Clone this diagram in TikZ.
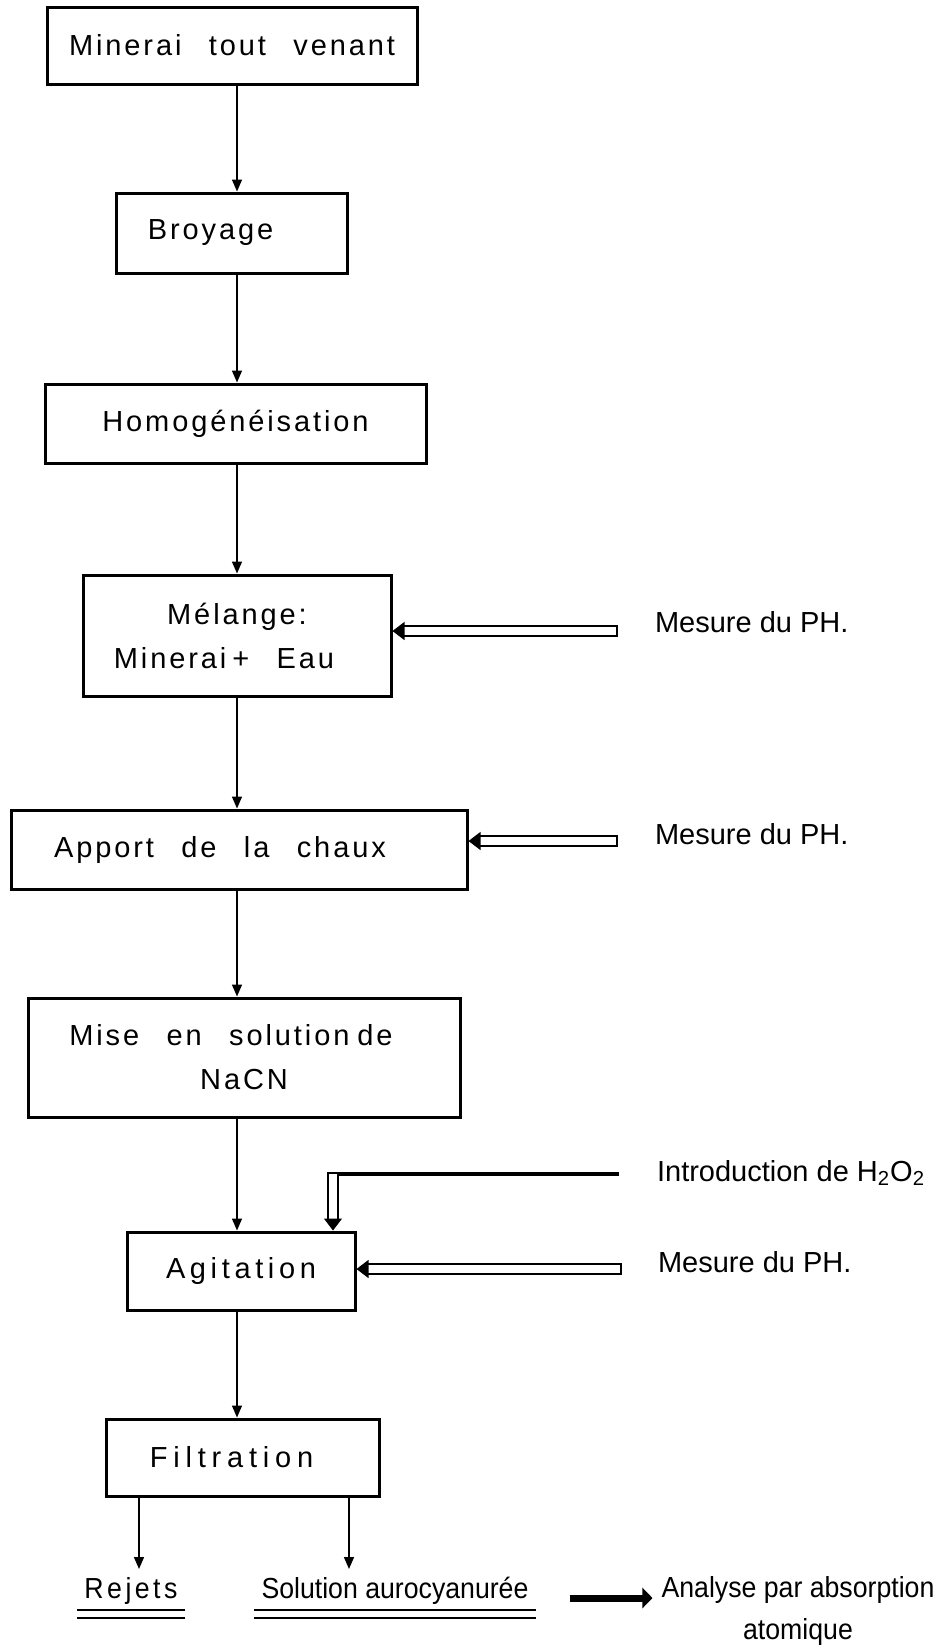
\documentclass[tikz,border=0pt]{standalone}
\usepackage{fontspec}
\setmainfont{Liberation Sans}
\newfontfamily\boxfont{Liberation Sans}[LetterSpace=10,WordSpace=2.5]
\newfontfamily\narrowfont{Liberation Sans}[FakeStretch=0.92]
\usetikzlibrary{arrows.meta, positioning}

\begin{document}
\begin{tikzpicture}[x=0.5pt, y=-0.5pt, >={Triangle[length=6pt,width=5pt]}]

  % Define styles for the boxes and the lines
  \tikzstyle{procbox} = [draw, line width=1.5pt, inner sep=0pt, align=center, font=\boxfont\fontsize{14.5}{22}\selectfont]
  \tikzstyle{flow} = [->, line width=0.7pt]
  \tikzstyle{tube} = [double, double distance=4.4pt, line width=0.6pt, -{Triangle[length=6pt,width=9pt]}]
  \tikzstyle{tubecap} = [line width=0.6pt]
  \tikzstyle{feedline} = [line width=1.6pt]
  \tikzstyle{note} = [anchor=west, font=\fontsize{14.5}{18}\selectfont]
  \tikzstyle{outlabel} = [font=\narrowfont\fontsize{14.5}{21}\selectfont, text height=11pt, text depth=3pt]
  \tikzstyle{underline2} = [double, double distance=3.4pt, line width=0.6pt]
  \tikzstyle{bigarrow} = [line width=3.5pt, -{Triangle[length=5pt,width=10pt]}]

  \useasboundingbox (0,0) rectangle (942,1645);

  \node (minerai) [procbox, minimum width=185pt, minimum height=38.5pt] at (232,45.5) {Minerai tout venant};
  \node (broyage) [procbox, minimum width=115.5pt, minimum height=40pt] at (231.5,233) {\hspace*{-21pt}Broyage};
  \node (homog) [procbox, minimum width=190.5pt, minimum height=39.5pt] at (235.5,423.5) {Homogénéisation};
  \node (melange) [procbox, minimum width=154pt, minimum height=60.5pt] at (237,635.5) {Mélange:\\\hspace*{-13pt}Minerai\hspace{3pt}+ Eau};
  \node (chaux) [procbox, minimum width=228pt, minimum height=39.5pt] at (239,849.5) {\hspace*{-19pt}Apport de la chaux};
  \node (nacn) [procbox, minimum width=216pt, minimum height=59.5pt] at (244,1057.5) {\hspace*{-13pt}Mise en solution\hspace{4pt}de\\NaCN};
  \node (agitation) [procbox, minimum width=114pt, minimum height=39pt] at (241,1271) {\addfontfeature{LetterSpace=16}Agitation};
  \node (filtration) [procbox, minimum width=136.5pt, minimum height=38.5pt] at (242.5,1457.5) {\hspace*{-11pt}\addfontfeature{LetterSpace=20}Filtration};

  \node (ph1) [note] at (648,622) {Mesure du PH.};
  \node (ph2) [note] at (648,834) {Mesure du PH.};
  \node (h2o2) [note] at (650,1173) {Introduction de H\textsubscript{2}O\textsubscript{2}};
  \node (ph3) [note] at (651,1262) {Mesure du PH.};

  \node (rejets) [outlabel] at (131,1590) {\addfontfeature{LetterSpace=12}Rejets};
  \node (solution) [outlabel] at (395,1590) {Solution aurocyanurée};
  \node (analyse) [align=center, font=\narrowfont\fontsize{14.5}{21}\selectfont] at (798,1611) {Analyse par absorption\\atomique};

  % main line
  \coordinate (axis) at (237,0);
  \draw[flow] (minerai.south -| axis) -- (broyage.north -| axis);
  \draw[flow] (broyage.south -| axis) -- (homog.north -| axis);
  \draw[flow] (homog.south -| axis) -- (melange.north -| axis);
  \draw[flow] (melange.south -| axis) -- (chaux.north -| axis);
  \draw[flow] (chaux.south -| axis) -- (nacn.north -| axis);
  \draw[flow] (nacn.south -| axis) -- (agitation.north -| axis);
  \draw[flow] (agitation.south -| axis) -- (filtration.north -| axis);

  % pH measurements
  \coordinate (ph1s) at (617,631);
  \coordinate (ph2s) at (617,841);
  \coordinate (ph3s) at (621,1269);
  \draw[tube] (ph1s) -- (ph1s -| melange.east);
  \draw[tube] (ph2s) -- (ph2s -| chaux.east);
  \draw[tube] (ph3s) -- (ph3s -| agitation.east);
  \draw[tubecap] ([yshift=2.8pt]ph1s) -- ([yshift=-2.8pt]ph1s);
  \draw[tubecap] ([yshift=2.8pt]ph2s) -- ([yshift=-2.8pt]ph2s);
  \draw[tubecap] ([yshift=2.8pt]ph3s) -- ([yshift=-2.8pt]ph3s);

  % H2O2 feed
  \coordinate (h2o2s) at (619,1174);
  \coordinate (h2o2c) at (333,1174);
  \draw[feedline] (h2o2s) -- ([xshift=-2.8pt]h2o2c);
  \draw[tube] (h2o2c) -- (h2o2c |- agitation.north);

  % outputs of the filtration
  \coordinate (rejtip) at (139,1569);
  \coordinate (soltip) at (349,1569);
  \draw[flow] (filtration.south -| rejtip) -- (rejtip);
  \draw[flow] (filtration.south -| soltip) -- (soltip);
  \draw[underline2] ([yshift=-1.5pt]rejets.south west) -- ([yshift=-1.5pt]rejets.south east);
  \draw[underline2] ([yshift=-1.5pt]solution.south west) -- ([yshift=-1.5pt]solution.south east);
  \draw[bigarrow, shorten <=17pt, shorten >=1pt] ([yshift=-4pt]solution.east) -- ([yshift=-4pt]solution.east -| analyse.west);

\end{tikzpicture}
\end{document}
